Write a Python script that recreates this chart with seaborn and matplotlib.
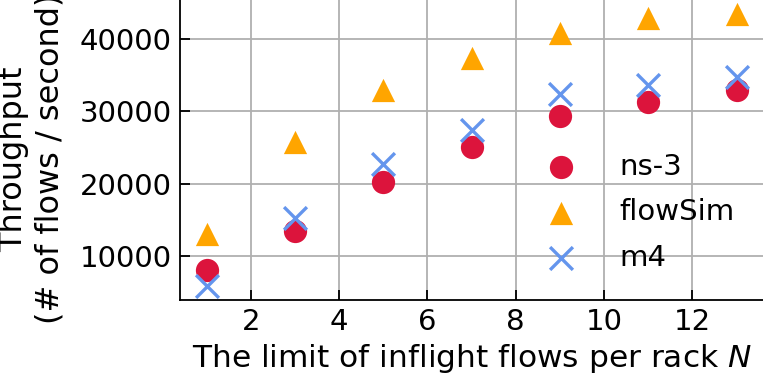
import matplotlib
matplotlib.use("Agg")
import matplotlib.pyplot as plt
import seaborn as sns
import pandas as pd

# inflight flow limit per rack
limits = [1, 3, 5, 7, 9, 11, 13]

# throughput (# of flows / second)
ns3 = [8100, 13500, 20200, 25000, 29300, 31300, 33000]
flowsim = [13000, 25800, 32900, 37400, 40800, 42900, 43500]
m4 = [5800, 15300, 22700, 27400, 32400, 33700, 34800]

series_names = ["ns-3", "flowSim", "m4"]
series_vals = [ns3, flowsim, m4]
colors = {"ns-3": "crimson", "flowSim": "orange", "m4": "cornflowerblue"}
markers = {"ns-3": "o", "flowSim": "^", "m4": "x"}

df = pd.DataFrame({
    "limit": limits * len(series_names),
    "throughput": [v for vals in series_vals for v in vals],
    "sim": [n for n in series_names for _ in limits],
})

sns.set_style("ticks")
plt.rcParams["font.family"] = ["DejaVu Sans"]
plt.rcParams["font.size"] = 21
for k in ["text.color", "axes.labelcolor", "xtick.color", "ytick.color", "axes.edgecolor"]:
    plt.rcParams[k] = "black"

fig = plt.figure(figsize=(7.63, 3.8), dpi=100)
ax = fig.add_axes([0.236, 0.2105, 0.764, 0.7895])

# filled and line-art markers can't be mixed in one call, so plot per series
for name in series_names:
    sub = df[df["sim"] == name]
    if markers[name] == "x":
        sns.scatterplot(data=sub, x="limit", y="throughput", color=colors[name],
                        marker="x", s=270, linewidth=2.4, label=name, ax=ax, zorder=3)
    else:
        sns.scatterplot(data=sub, x="limit", y="throughput", color=colors[name],
                        marker=markers[name], s=280, linewidth=0, label=name, ax=ax, zorder=3)

ax.grid(True, color="#b0b0b0", linewidth=1.3)
ax.set_axisbelow(True)
sns.despine(ax=ax)
for sp in ["left", "bottom"]:
    ax.spines[sp].set_linewidth(1.3)

ax.set_xticks([2, 4, 6, 8, 10, 12])
ax.set_yticks([10000, 20000, 30000, 40000])
ax.tick_params(direction="in", length=7, width=1.3, labelsize=21, pad=6)

ax.set_xlabel("The limit of inflight flows per rack $N$", fontsize=22.5, labelpad=4)
ax.set_ylabel("Throughput\n(# of flows / second)", fontsize=23)
ax.yaxis.set_label_coords(-0.197, 0.47)

ax.legend(loc="lower right", frameon=False, fontsize=21, handletextpad=1.0,
          labelspacing=0.6, borderaxespad=0.57)

fig.savefig("out.png", dpi=100)
